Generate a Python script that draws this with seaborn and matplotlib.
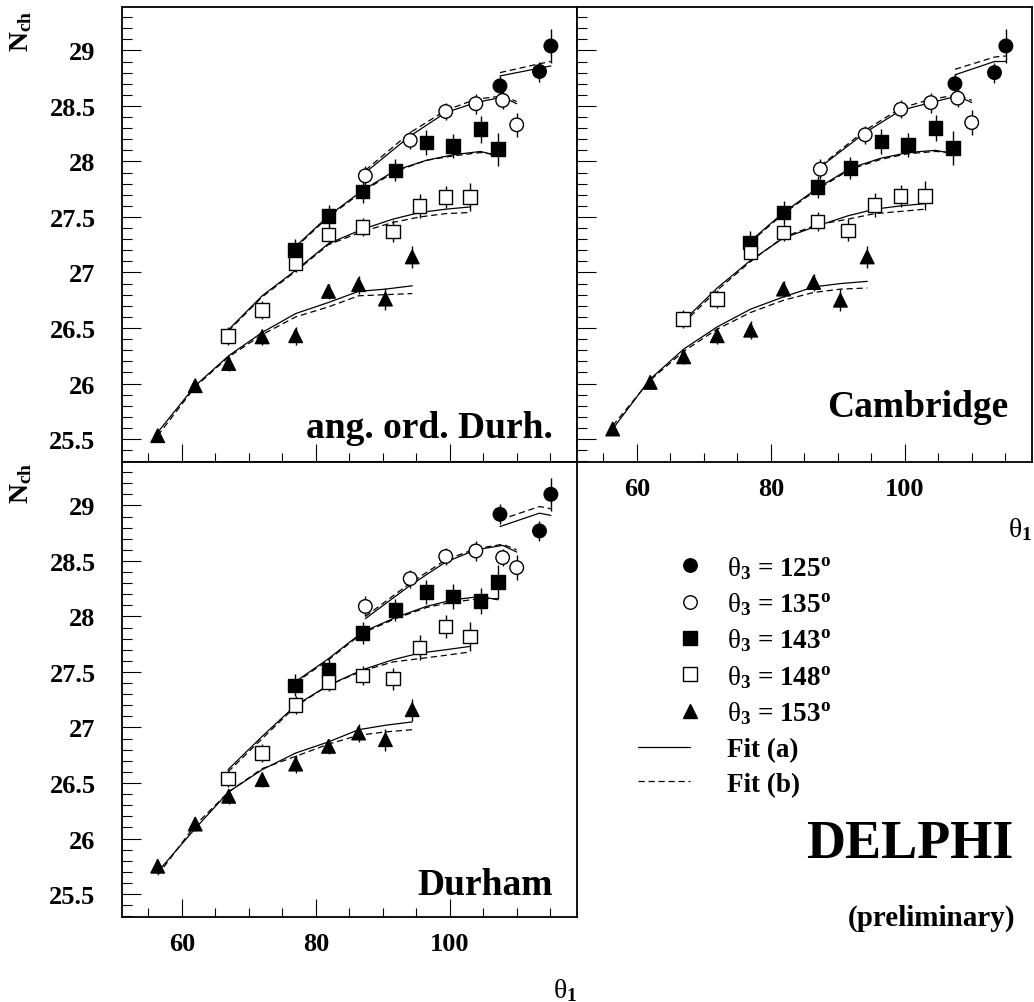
import pandas as pd
import matplotlib
matplotlib.use("Agg")
import matplotlib.pyplot as plt
from matplotlib.lines import Line2D
from matplotlib.ticker import MultipleLocator, FuncFormatter
import seaborn as sns

# theta_3 categories (legend order)
theta3 = ["125", "135", "143", "148", "153"]

# theta_1 bin centres per theta_3 series
t1_125 = [107.5, 113.4, 115.1]
t1_135 = [87.4, 94.1, 99.4, 103.9, 107.9, 110.0]
t1_143 = [76.9, 81.9, 87.0, 91.9, 96.5, 100.5, 104.6, 107.2]
t1_148 = [66.9, 72.0, 77.0, 81.9, 87.0, 91.5, 95.5, 99.4, 103.0]
t1_153 = [56.4, 62.0, 67.0, 72.0, 77.0, 81.9, 86.4, 90.4, 94.4]

# statistical errors
err_125 = [0.09, 0.09, 0.15]
err_135 = [0.09, 0.08, 0.08, 0.09, 0.08, 0.11]
err_143 = [0.10, 0.10, 0.10, 0.10, 0.11, 0.11, 0.12, 0.15]
err_148 = [0.08, 0.08, 0.08, 0.08, 0.085, 0.10, 0.11, 0.10, 0.13]
err_153 = [0.05, 0.06, 0.065, 0.07, 0.08, 0.07, 0.08, 0.10, 0.10]

# --- angular ordered Durham ---
ao_125 = [28.68, 28.81, 29.04]
ao_135 = [27.87, 28.19, 28.45, 28.52, 28.55, 28.33]
ao_143 = [27.20, 27.51, 27.73, 27.92, 28.17, 28.14, 28.29, 28.11]
ao_148 = [26.43, 26.66, 27.08, 27.34, 27.41, 27.37, 27.60, 27.68, 27.68]
ao_153 = [25.53, 25.98, 26.18, 26.42, 26.43, 26.83, 26.89, 26.76, 27.14]
ao_125_fa = [28.77, 28.84, 28.86]
ao_125_fb = [28.80, 28.88, 28.90]
ao_135_fa = [27.90, 28.23, 28.44, 28.53, 28.58, 28.52]
ao_135_fb = [27.92, 28.26, 28.46, 28.56, 28.59, 28.54]
ao_143_fa = [27.23, 27.51, 27.74, 27.92, 28.01, 28.06, 28.09, 28.05]
ao_143_fb = [27.22, 27.50, 27.73, 27.91, 28.01, 28.05, 28.08, 28.06]
ao_148_fa = [26.48, 26.79, 27.02, 27.26, 27.39, 27.48, 27.54, 27.57, 27.59]
ao_148_fb = [26.47, 26.78, 27.01, 27.25, 27.37, 27.45, 27.50, 27.53, 27.54]
ao_153_fa = [25.56, 25.98, 26.25, 26.46, 26.63, 26.73, 26.83, 26.85, 26.88]
ao_153_fb = [25.53, 25.97, 26.24, 26.44, 26.60, 26.69, 26.79, 26.80, 26.81]

# --- Cambridge ---
ca_125 = [28.70, 28.80, 29.04]
ca_135 = [27.93, 28.24, 28.47, 28.53, 28.57, 28.35]
ca_143 = [27.27, 27.54, 27.77, 27.94, 28.18, 28.15, 28.30, 28.12]
ca_148 = [26.58, 26.76, 27.18, 27.36, 27.46, 27.38, 27.61, 27.69, 27.69]
ca_153 = [25.59, 26.01, 26.24, 26.43, 26.48, 26.85, 26.91, 26.75, 27.14]
ca_125_fa = [28.78, 28.90, 28.90]
ca_125_fb = [28.83, 28.94, 28.95]
ca_135_fa = [27.95, 28.26, 28.46, 28.53, 28.59, 28.53]
ca_135_fb = [27.96, 28.28, 28.48, 28.56, 28.60, 28.55]
ca_143_fa = [27.28, 27.54, 27.76, 27.94, 28.03, 28.08, 28.10, 28.07]
ca_143_fb = [27.27, 27.53, 27.75, 27.93, 28.02, 28.07, 28.09, 28.08]
ca_148_fa = [26.56, 26.86, 27.11, 27.31, 27.42, 27.51, 27.57, 27.60, 27.62]
ca_148_fb = [26.54, 26.84, 27.10, 27.32, 27.43, 27.48, 27.53, 27.55, 27.57]
ca_153_fa = [25.59, 26.04, 26.31, 26.51, 26.67, 26.78, 26.87, 26.90, 26.92]
ca_153_fb = [25.62, 26.03, 26.29, 26.49, 26.64, 26.75, 26.82, 26.85, 26.86]

# --- Durham ---
du_125 = [28.92, 28.77, 29.10]
du_135 = [28.09, 28.34, 28.54, 28.59, 28.53, 28.44]
du_143 = [27.38, 27.52, 27.85, 28.06, 28.22, 28.18, 28.14, 28.31]
du_148 = [26.54, 26.77, 27.20, 27.41, 27.47, 27.44, 27.72, 27.91, 27.82]
du_153 = [25.75, 26.13, 26.38, 26.53, 26.67, 26.83, 26.95, 26.89, 27.16]
du_125_fa = [28.81, 28.93, 28.91]
du_125_fb = [28.87, 28.99, 28.97]
du_135_fa = [27.98, 28.28, 28.49, 28.60, 28.64, 28.58]
du_135_fb = [28.00, 28.30, 28.51, 28.61, 28.65, 28.60]
du_143_fa = [27.41, 27.62, 27.86, 27.99, 28.09, 28.15, 28.18, 28.15]
du_143_fb = [27.40, 27.61, 27.85, 27.98, 28.08, 28.13, 28.16, 28.16]
du_148_fa = [26.62, 26.92, 27.20, 27.38, 27.52, 27.61, 27.67, 27.70, 27.73]
du_148_fb = [26.60, 26.90, 27.19, 27.38, 27.51, 27.59, 27.62, 27.65, 27.68]
du_153_fa = [25.70, 26.09, 26.42, 26.62, 26.77, 26.87, 26.98, 27.02, 27.05]
du_153_fb = [25.67, 26.12, 26.42, 26.63, 26.74, 26.85, 26.93, 26.96, 26.98]

panel_names = ["ang. ord. Durh.", "Cambridge", "Durham"]


def panel_frame(name, nch, fa, fb):
    rows = []
    t1s = [t1_125, t1_135, t1_143, t1_148, t1_153]
    errs = [err_125, err_135, err_143, err_148, err_153]
    for th, t1, e, n, a, b in zip(theta3, t1s, errs, nch, fa, fb):
        for i in range(len(t1)):
            rows.append(dict(panel=name, theta3=th, theta1=t1[i], nch=n[i],
                             err=e[i], fit_a=a[i], fit_b=b[i]))
    return pd.DataFrame(rows)


df = pd.concat([
    panel_frame(panel_names[0],
                [ao_125, ao_135, ao_143, ao_148, ao_153],
                [ao_125_fa, ao_135_fa, ao_143_fa, ao_148_fa, ao_153_fa],
                [ao_125_fb, ao_135_fb, ao_143_fb, ao_148_fb, ao_153_fb]),
    panel_frame(panel_names[1],
                [ca_125, ca_135, ca_143, ca_148, ca_153],
                [ca_125_fa, ca_135_fa, ca_143_fa, ca_148_fa, ca_153_fa],
                [ca_125_fb, ca_135_fb, ca_143_fb, ca_148_fb, ca_153_fb]),
    panel_frame(panel_names[2],
                [du_125, du_135, du_143, du_148, du_153],
                [du_125_fa, du_135_fa, du_143_fa, du_148_fa, du_153_fa],
                [du_125_fb, du_135_fb, du_143_fb, du_148_fb, du_153_fb]),
], ignore_index=True)

# marker styles
face = {"125": "black", "135": "white", "143": "black", "148": "white", "153": "black"}
marks = {"125": "o", "135": "o", "143": "s", "148": "s", "153": "^"}

sns.set_theme(style="ticks")
plt.rcParams["font.family"] = ["Liberation Serif", "DejaVu Serif"]
plt.rcParams["font.weight"] = "bold"
plt.rcParams["text.color"] = "black"
plt.rcParams["axes.labelcolor"] = "black"
plt.rcParams["xtick.color"] = "black"
plt.rcParams["ytick.color"] = "black"
plt.rcParams["mathtext.fontset"] = "custom"
plt.rcParams["mathtext.rm"] = "Liberation Serif:weight=normal:style=normal"
plt.rcParams["mathtext.it"] = "Liberation Serif:style=italic:weight=normal"
plt.rcParams["mathtext.bf"] = "Liberation Serif:weight=bold"
plt.rcParams["mathtext.default"] = "rm"

W, H = 1034, 1003
fig = plt.figure(figsize=(W / 100, H / 100), dpi=100)
fig.patch.set_facecolor("white")


def fx(px):
    return px / W


def fy(py):
    return 1 - py / H


ax_tl = fig.add_axes([fx(122), fy(463), fx(455), 455 / H])
ax_tr = fig.add_axes([fx(577), fy(463), fx(455), 455 / H])
ax_bl = fig.add_axes([fx(122), fy(918), fx(455), 455 / H])
axes = [ax_tl, ax_tr, ax_bl]

tick_fmt = FuncFormatter(lambda v, p: "%g" % v)

for ax, name in zip(axes, panel_names):
    sub = df[df.panel == name]
    for th in theta3:
        s = sub[sub.theta3 == th]
        ax.errorbar(s.theta1, s.nch, yerr=s.err, fmt="none", ecolor="black",
                    elinewidth=1.0, capsize=0, zorder=2)
    sns.lineplot(data=sub, x="theta1", y="fit_a", units="theta3", estimator=None,
                 color="black", lw=0.9, ax=ax, legend=False, zorder=2)
    sns.lineplot(data=sub, x="theta1", y="fit_b", units="theta3", estimator=None,
                 color="black", lw=0.9, linestyle=(0, (5, 3)), ax=ax,
                 legend=False, zorder=2)
    sns.scatterplot(data=sub, x="theta1", y="nch", hue="theta3", style="theta3",
                    palette=face, markers=marks, edgecolor="black", linewidth=1.0,
                    s=95, ax=ax, legend=False, zorder=3)

    ax.set_xlim(51.07, 119.0)
    ax.set_ylim(25.293, 29.391)
    ax.xaxis.set_major_locator(MultipleLocator(20))
    ax.xaxis.set_minor_locator(MultipleLocator(5))
    ax.yaxis.set_major_locator(MultipleLocator(0.5))
    ax.yaxis.set_minor_locator(MultipleLocator(0.1))
    ax.xaxis.set_major_formatter(tick_fmt)
    ax.yaxis.set_major_formatter(tick_fmt)
    ax.tick_params(axis="y", which="major", direction="in", length=14, width=0.8,
                   pad=19, labelsize=19)
    ax.tick_params(axis="y", which="minor", direction="in", length=7, width=0.8)
    ax.tick_params(axis="x", which="major", direction="in", length=13, width=0.8,
                   pad=11, labelsize=19)
    ax.tick_params(axis="x", which="minor", direction="in", length=6.5, width=0.8)
    for sp in ax.spines.values():
        sp.set_linewidth(1.3)
        sp.set_color("black")
    ax.set_xlabel("")
    ax.set_ylabel("")
    ax.set_facecolor("white")

ax_tl.tick_params(labelbottom=False)
ax_tr.tick_params(labelleft=False)

# panel names
ax_tl.text(0.947, 0.055, panel_names[0], transform=ax_tl.transAxes, ha="right",
           va="baseline", fontsize=27, fontweight="bold")
ax_tr.text(0.947, 0.101, panel_names[1], transform=ax_tr.transAxes, ha="right",
           va="baseline", fontsize=27, fontweight="bold")
ax_bl.text(0.947, 0.050, panel_names[2], transform=ax_bl.transAxes, ha="right",
           va="baseline", fontsize=27, fontweight="bold")

# axis titles
for ax, ytop in [(ax_tl, 0.995), (ax_bl, 1.0)]:
    ax.set_ylabel(r"$\mathbf{N_{ch}}$", loc="top", fontsize=20)
    ax.yaxis.set_label_coords(-0.193, ytop)
for ax, ypos in [(ax_tr, -0.118), (ax_bl, -0.13)]:
    ax.set_xlabel(r"$\theta_\mathbf{1}$", loc="right", fontsize=20)
    ax.xaxis.set_label_coords(1.0, ypos)

# legend
mk_handles = [Line2D([], [], ls="none", marker=marks[t], markersize=9.7,
                     markerfacecolor=face[t], markeredgecolor="black",
                     markeredgewidth=1.0) for t in theta3]
mk_labels = [r"$\theta_\mathbf{3}$ = " + t + r"$^\mathbf{o}$" for t in theta3]
fig.legend(mk_handles, mk_labels, loc="center left",
           bbox_to_anchor=(fx(676.5), fy(641)), frameon=False,
           prop=dict(size=19.5, weight="bold"), handlelength=1.0,
           handletextpad=0.87, labelspacing=0.35, borderpad=0,
           borderaxespad=0)
fit_handles = [Line2D([], [], color="black", lw=0.9),
               Line2D([], [], color="black", lw=0.9, ls=(0, (5, 3)))]
fig.legend(fit_handles, ["Fit (a)", "Fit (b)"], loc="center left",
           bbox_to_anchor=(fx(638), fy(768)), frameon=False,
           prop=dict(size=19.5, weight="bold"), handlelength=1.93,
           handletextpad=1.37, labelspacing=0.35, borderpad=0, borderaxespad=0)

fig.text(fx(1013), fy(858), "DELPHI", ha="right", va="baseline", fontsize=39,
         fontweight="bold")
fig.text(fx(1015), fy(926), "(preliminary)", ha="right", va="baseline",
         fontsize=21, fontweight="bold")

fig.savefig("out.png", dpi=100, facecolor="white")
